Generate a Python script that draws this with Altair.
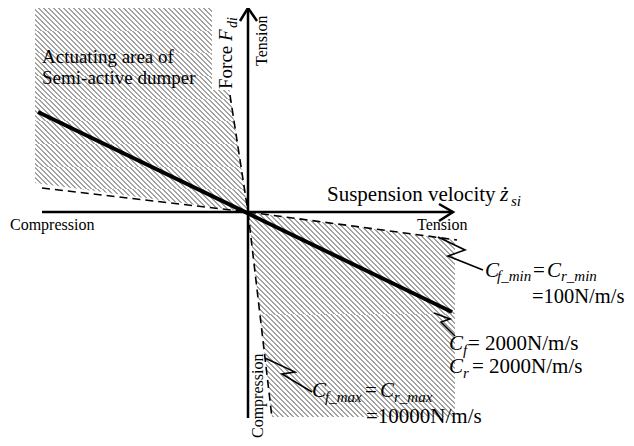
import altair as alt
import pandas as pd

FONT = "Liberation Serif"

# ---- shaded actuating areas (x, top, bottom) ----
ul_x = [35, 217, 248]
ul_top = [8, 8, 212]
ul_bot = [183, 207.8, 212]

lr_x = [248, 272, 455]
lr_top = [212, 215.2, 240]
lr_bot = [212, 417, 417]

# ---- line segments: name -> list of (x, y) ----
dashed_lines = {
    "cmin_ul": [(42, 188), (248, 212)],
    "cmax_ul": [(230, 95), (248, 212)],
    "cmin_lr": [(248, 212), (457, 240)],
    "cmax_lr": [(248, 212), (272, 418)],
}
thick_lines = {
    "c2000": [(38, 112), (452, 312)],
}
axis_lines = {
    "haxis": [(42, 212), (453, 212)],
    "vaxis": [(248, 8), (248, 418)],
    "harrow": [(439, 204), (453, 212), (439, 221)],
    "varrow": [(240, 21), (248, 8), (257, 21)],
}
zigzag_lines = {
    "z_min": [(438, 237), (465, 250), (448, 256), (483, 270)],
    "z_2000": [(434, 313), (450, 319), (441, 322), (455, 336)],
    "z_max": [(265, 358), (295, 372), (282, 374), (312, 392)],
}

# ---- texts: (text, x, y, size, angle) ----
normal_texts = [
    ("Actuating area of", 42, 63, 19, 0),
    ("Semi-active dumper", 42, 84, 19, 0),
    ("Force", 232, 89, 19, 270),
    ("Tension", 267, 66, 16, 270),
    ("Suspension velocity", 327, 201, 21, 0),
    ("Compression", 10, 230, 16, 0),
    ("Tension", 417, 230, 16, 0),
    ("=", 533, 277, 21, 0),
    ("=100N/m/s", 532, 303, 20.5, 0),
    ("= 2000N/m/s", 468, 350, 21, 0),
    ("= 2000N/m/s", 472, 373, 21, 0),
    ("=", 365, 397, 21, 0),
    ("=10000N/m/s", 366, 423, 21, 0),
    ("Compression", 263, 438, 16, 270),
]
italic_texts = [
    ("F", 232, 41, 19, 270),
    ("di", 237, 28, 14, 270),
    ("ż", 500, 201, 22, 0),
    ("si", 511, 206, 15, 0),
    ("C", 485, 277, 21, 0),
    ("f_min", 497, 281, 15, 0),
    ("C", 547, 277, 21, 0),
    ("r_min", 561, 281, 15, 0),
    ("C", 449, 350, 21, 0),
    ("f", 463, 355, 15, 0),
    ("C", 449, 373, 21, 0),
    ("r", 463, 378, 15, 0),
    ("C", 312, 397, 21, 0),
    ("f_max", 325, 402, 15, 0),
    ("C", 380, 397, 21, 0),
    ("r_max", 394, 402, 15, 0),
]

# white box behind the vertical force label
label_box = {"x": [212], "x2": [240], "y": [8], "y2": [90]}

# ---- helpers ----
X = lambda f="x": alt.X(f"{f}:Q", scale=alt.Scale(domain=[8, 626], nice=False, zero=False), axis=None)
Y = lambda f="y": alt.Y(f"{f}:Q", scale=alt.Scale(domain=[8, 438], nice=False, zero=False, reverse=True), axis=None)


def seg_df(d):
    rows = []
    for name, pts in d.items():
        for i, (x, y) in enumerate(pts):
            rows.append({"seg": name, "x": x, "y": y, "o": i})
    return pd.DataFrame(rows)


def hatch(box_w, period=5.0, frac=0.4, grey="#a4a4a4"):
    # diagonal hatch: horizontal stripe period of `period` pixels
    n = 2.0 * box_w / period
    stops = []
    i = 0
    while i / n < 1:
        a = i / n
        b = min((i + frac) / n, 1)
        c = min((i + 1) / n, 1)
        stops += [
            alt.GradientStop(offset=a, color=grey),
            alt.GradientStop(offset=b, color=grey),
            alt.GradientStop(offset=b, color="white"),
            alt.GradientStop(offset=c, color="white"),
        ]
        i += 1
    return alt.Gradient(gradient="linear", stops=stops, x1=0, y1=1, x2=1, y2=0)


ul_df = pd.DataFrame({"x": ul_x, "y": ul_top, "y2": ul_bot})
lr_df = pd.DataFrame({"x": lr_x, "y": lr_top, "y2": lr_bot})

area_ul = alt.Chart(ul_df).mark_area(color=hatch(max(ul_x) - min(ul_x)), interpolate="linear").encode(
    x=X(), y=Y(), y2="y2:Q")
area_lr = alt.Chart(lr_df).mark_area(color=hatch(max(lr_x) - min(lr_x)), interpolate="linear").encode(
    x=X(), y=Y(), y2="y2:Q")

box = alt.Chart(pd.DataFrame(label_box)).mark_rect(color="white").encode(
    x=X(), x2="x2:Q", y=Y(), y2="y2:Q")


def lines(d, width, dash=None):
    kw = dict(color="black", strokeWidth=width, strokeJoin="miter", strokeCap="butt")
    if dash:
        kw["strokeDash"] = dash
    return alt.Chart(seg_df(d)).mark_line(**kw).encode(
        x=X(), y=Y(), detail="seg:N", order="o:Q")


dashed = lines(dashed_lines, 1.6, [8, 5])
thick = lines(thick_lines, 4)
axes = lines(axis_lines, 2.5)
zig = lines(zigzag_lines, 1.6)


def texts(rows, style):
    df = pd.DataFrame(rows, columns=["t", "x", "y", "s", "a"])
    return alt.Chart(df).mark_text(
        font=FONT, fontStyle=style, align="left", baseline="alphabetic", color="black"
    ).encode(
        x=X(), y=Y(), text="t:N",
        size=alt.Size("s:Q", scale=None),
        angle=alt.Angle("a:Q", scale=None),
    )


chart = alt.layer(
    area_ul, area_lr, box, dashed, thick, axes, zig,
    texts(normal_texts, "normal"), texts(italic_texts, "italic"),
).properties(
    width=618, height=430, padding=0, autosize=alt.AutoSizeParams(type="none"),
    background="white",
).configure_view(stroke=None)

chart.save("out.html", embed_options={"renderer": "svg", "actions": False})
